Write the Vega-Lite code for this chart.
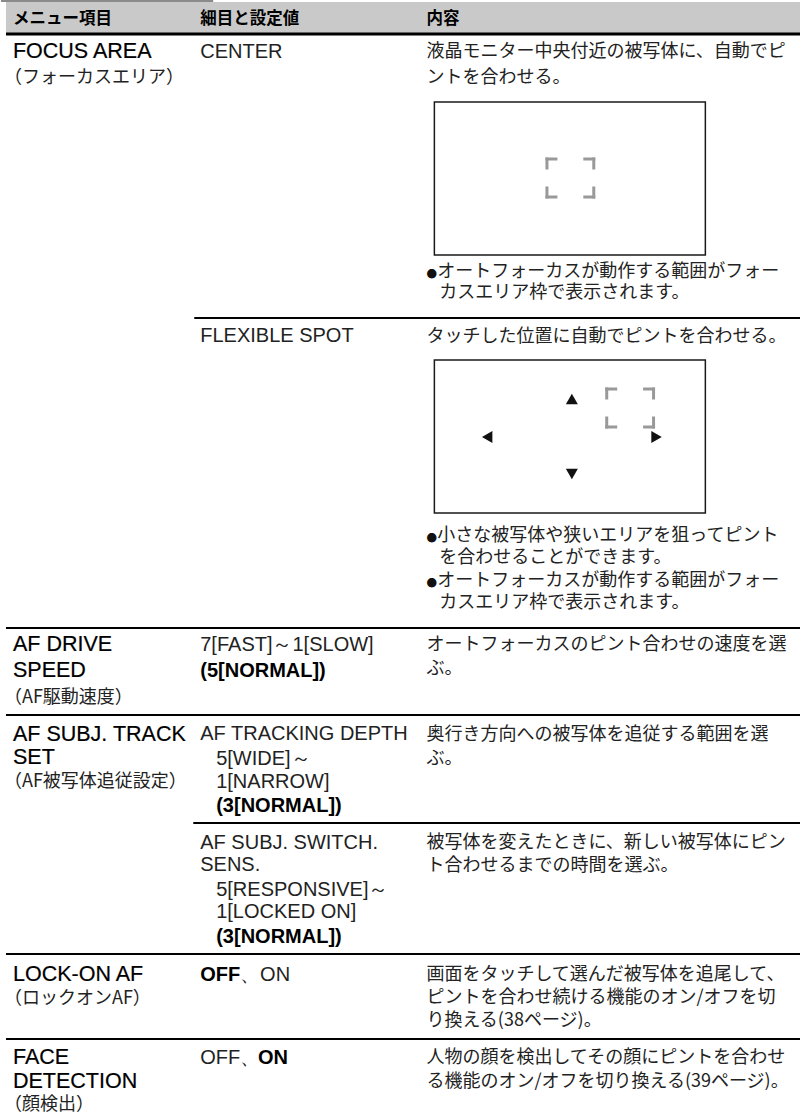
{
  "$schema": "https://vega.github.io/schema/vega-lite/v6.json",
  "width": 802,
  "height": 1120,
  "autosize": {"type": "fit", "contains": "padding"},
  "padding": 0,
  "background": "white",
  "config": {"view": {"stroke": null}},
  "datasets": {
    "bands": [
      {"part": "header", "x": 5, "x2": 802, "y": 2, "y2": 33}
    ],
    "frames": [
      {"option": "CENTER", "x": 435, "x2": 707, "y": 102, "y2": 255},
      {"option": "FLEXIBLE SPOT", "x": 435, "x2": 707, "y": 360, "y2": 513}
    ],
    "lines": [
      {"kind": "top", "x": 0, "x2": 213, "y": 1},
      {"kind": "head", "x": 5, "x2": 802, "y": 34},
      {"kind": "row", "x": 194, "x2": 802, "y": 318},
      {"kind": "row", "x": 5, "x2": 802, "y": 628},
      {"kind": "row", "x": 5, "x2": 802, "y": 715},
      {"kind": "row", "x": 193, "x2": 802, "y": 823},
      {"kind": "row", "x": 5, "x2": 802, "y": 954},
      {"kind": "row", "x": 5, "x2": 802, "y": 1039}
    ],
    "brackets": [
      {"option": "CENTER", "x": 548, "x2": 557, "y": 159, "y2": 159},
      {"option": "CENTER", "x": 548, "x2": 548, "y": 159, "y2": 168},
      {"option": "CENTER", "x": 586, "x2": 595, "y": 159, "y2": 159},
      {"option": "CENTER", "x": 595, "x2": 595, "y": 159, "y2": 168},
      {"option": "CENTER", "x": 548, "x2": 557, "y": 197, "y2": 197},
      {"option": "CENTER", "x": 548, "x2": 548, "y": 188, "y2": 197},
      {"option": "CENTER", "x": 586, "x2": 595, "y": 197, "y2": 197},
      {"option": "CENTER", "x": 595, "x2": 595, "y": 188, "y2": 197},
      {"option": "FLEXIBLE SPOT", "x": 608, "x2": 617, "y": 389, "y2": 389},
      {"option": "FLEXIBLE SPOT", "x": 608, "x2": 608, "y": 389, "y2": 398},
      {"option": "FLEXIBLE SPOT", "x": 646, "x2": 655, "y": 389, "y2": 389},
      {"option": "FLEXIBLE SPOT", "x": 655, "x2": 655, "y": 389, "y2": 398},
      {"option": "FLEXIBLE SPOT", "x": 608, "x2": 617, "y": 427, "y2": 427},
      {"option": "FLEXIBLE SPOT", "x": 608, "x2": 608, "y": 418, "y2": 427},
      {"option": "FLEXIBLE SPOT", "x": 646, "x2": 655, "y": 427, "y2": 427},
      {"option": "FLEXIBLE SPOT", "x": 655, "x2": 655, "y": 418, "y2": 427}
    ],
    "arrows": [
      {"dir": "up", "x": 573, "y": 399},
      {"dir": "down", "x": 573, "y": 474},
      {"dir": "left", "x": 488, "y": 437},
      {"dir": "right", "x": 658, "y": 437}
    ],
    "texts": [
      {"role": "header", "x": 12, "y": 19, "text": "メニュー項目"},
      {"role": "header", "x": 200, "y": 19, "text": "細目と設定値"},
      {"role": "header", "x": 427, "y": 19, "text": "内容"},

      {"role": "title", "x": 12, "y": 52, "text": "FOCUS AREA"},
      {"role": "title", "x": 12, "y": 645, "text": "AF DRIVE"},
      {"role": "title", "x": 12, "y": 671, "text": "SPEED"},
      {"role": "title", "x": 12, "y": 735, "text": "AF SUBJ. TRACK"},
      {"role": "title", "x": 12, "y": 758, "text": "SET"},
      {"role": "title", "x": 12, "y": 975, "text": "LOCK-ON AF"},
      {"role": "title", "x": 12, "y": 1058, "text": "FACE"},
      {"role": "title", "x": 12, "y": 1082, "text": "DETECTION"},

      {"role": "sub", "x": 3, "y": 78, "text": "（フォーカスエリア）"},
      {"role": "sub", "x": 3, "y": 698, "text": "（AF駆動速度）"},
      {"role": "sub", "x": 3, "y": 782, "text": "（AF被写体追従設定）"},
      {"role": "sub", "x": 3, "y": 999, "text": "（ロックオンAF）"},
      {"role": "sub", "x": 3, "y": 1105, "text": "（顔検出）"},

      {"role": "value", "x": 200, "y": 52, "text": "CENTER"},
      {"role": "value", "x": 200, "y": 336, "text": "FLEXIBLE SPOT"},
      {"role": "value", "x": 200, "y": 645, "text": "7[FAST]～1[SLOW]"},
      {"role": "value", "x": 200, "y": 734, "text": "AF TRACKING DEPTH"},
      {"role": "value", "x": 216, "y": 759, "text": "5[WIDE]～"},
      {"role": "value", "x": 216, "y": 782, "text": "1[NARROW]"},
      {"role": "value", "x": 200, "y": 843, "text": "AF SUBJ. SWITCH."},
      {"role": "value", "x": 200, "y": 865, "text": "SENS."},
      {"role": "value", "x": 216, "y": 890, "text": "5[RESPONSIVE]～"},
      {"role": "value", "x": 216, "y": 912, "text": "1[LOCKED ON]"},
      {"role": "value", "x": 240, "y": 975, "text": "、ON"},
      {"role": "value", "x": 200, "y": 1058, "text": "OFF、"},

      {"role": "default", "x": 200, "y": 671, "text": "(5[NORMAL])"},
      {"role": "default", "x": 216, "y": 806, "text": "(3[NORMAL])"},
      {"role": "default", "x": 216, "y": 937, "text": "(3[NORMAL])"},
      {"role": "default", "x": 200, "y": 975, "text": "OFF"},
      {"role": "default", "x": 258, "y": 1058, "text": "ON"},

      {"role": "bullet", "x": 427, "y": 275, "text": "●"},
      {"role": "bullet", "x": 427, "y": 539, "text": "●"},
      {"role": "bullet", "x": 427, "y": 584, "text": "●"},

      {"role": "desc", "x": 427, "y": 52, "text": "液晶モニター中央付近の被写体に、自動でピ"},
      {"role": "desc", "x": 427, "y": 78, "text": "ントを合わせる。"},
      {"role": "desc", "x": 438, "y": 272, "text": "オートフォーカスが動作する範囲がフォー"},
      {"role": "desc", "x": 440, "y": 293, "text": "カスエリア枠で表示されます。"},
      {"role": "desc", "x": 427, "y": 337, "text": "タッチした位置に自動でピントを合わせる。"},
      {"role": "desc", "x": 438, "y": 536, "text": "小さな被写体や狭いエリアを狙ってピント"},
      {"role": "desc", "x": 440, "y": 558, "text": "を合わせることができます。"},
      {"role": "desc", "x": 438, "y": 581, "text": "オートフォーカスが動作する範囲がフォー"},
      {"role": "desc", "x": 440, "y": 603, "text": "カスエリア枠で表示されます。"},
      {"role": "desc", "x": 427, "y": 645, "text": "オートフォーカスのピント合わせの速度を選"},
      {"role": "desc", "x": 427, "y": 669, "text": "ぶ。"},
      {"role": "desc", "x": 427, "y": 735, "text": "奥行き方向への被写体を追従する範囲を選"},
      {"role": "desc", "x": 427, "y": 759, "text": "ぶ。"},
      {"role": "desc", "x": 427, "y": 843, "text": "被写体を変えたときに、新しい被写体にピン"},
      {"role": "desc", "x": 427, "y": 866, "text": "ト合わせるまでの時間を選ぶ。"},
      {"role": "desc", "x": 427, "y": 975, "text": "画面をタッチして選んだ被写体を追尾して、"},
      {"role": "desc", "x": 427, "y": 998, "text": "ピントを合わせ続ける機能のオン/オフを切"},
      {"role": "desc", "x": 427, "y": 1021, "text": "り換える(38ページ)。"},
      {"role": "desc", "x": 427, "y": 1058, "text": "人物の顔を検出してその顔にピントを合わせ"},
      {"role": "desc", "x": 427, "y": 1082, "text": "る機能のオン/オフを切り換える(39ページ)。"}
    ]
  },
  "encoding": {
    "x": {"field": "x", "type": "quantitative", "scale": {"domain": [0, 802], "nice": false, "zero": false}, "axis": null},
    "y": {"field": "y", "type": "quantitative", "scale": {"domain": [0, 1120], "nice": false, "zero": false, "reverse": true}, "axis": null}
  },
  "layer": [
    {
      "data": {"name": "bands"},
      "mark": {"type": "rect", "fill": "#c9c9c9"},
      "encoding": {"x2": {"field": "x2"}, "y2": {"field": "y2"}}
    },
    {
      "data": {"name": "lines"},
      "transform": [{"filter": "datum.kind === 'top'"}],
      "mark": {"type": "rule", "color": "#8a8a8a", "strokeWidth": 2},
      "encoding": {"x2": {"field": "x2"}}
    },
    {
      "data": {"name": "lines"},
      "transform": [{"filter": "datum.kind === 'head'"}],
      "mark": {"type": "rule", "color": "#000000", "strokeWidth": 3},
      "encoding": {"x2": {"field": "x2"}}
    },
    {
      "data": {"name": "lines"},
      "transform": [{"filter": "datum.kind === 'row'"}],
      "mark": {"type": "rule", "color": "#000000", "strokeWidth": 2},
      "encoding": {"x2": {"field": "x2"}}
    },
    {
      "data": {"name": "frames"},
      "mark": {"type": "rect", "fill": "transparent", "stroke": "#1a1a1a", "strokeWidth": 1.5},
      "encoding": {"x2": {"field": "x2"}, "y2": {"field": "y2"}}
    },
    {
      "data": {"name": "brackets"},
      "mark": {"type": "rule", "color": "#999999", "strokeWidth": 3, "strokeCap": "square"},
      "encoding": {"x2": {"field": "x2"}, "y2": {"field": "y2"}}
    },
    {
      "data": {"name": "arrows"},
      "mark": {"type": "point", "filled": true, "color": "#111111", "opacity": 1, "size": 144},
      "encoding": {
        "shape": {
          "field": "dir",
          "type": "nominal",
          "scale": {"domain": ["up", "down", "left", "right"], "range": ["triangle-up", "triangle-down", "triangle-left", "triangle-right"]},
          "legend": null
        }
      }
    },
    {
      "data": {"name": "texts"},
      "transform": [{"filter": "datum.role === 'header'"}],
      "mark": {"type": "text", "align": "left", "baseline": "middle", "font": "Noto Sans CJK JP", "fontWeight": "bold", "fontSize": 16.5, "color": "#000000"},
      "encoding": {"text": {"field": "text"}}
    },
    {
      "data": {"name": "texts"},
      "transform": [{"filter": "datum.role === 'title'"}],
      "mark": {"type": "text", "align": "left", "baseline": "middle", "font": "Liberation Sans", "fontSize": 21.5, "color": "#000000", "stroke": "#000000", "strokeWidth": 0.2},
      "encoding": {"text": {"field": "text"}}
    },
    {
      "data": {"name": "texts"},
      "transform": [{"filter": "datum.role === 'sub'"}],
      "mark": {"type": "text", "align": "left", "baseline": "middle", "font": "Noto Sans CJK JP", "fontSize": 18, "color": "#222222"},
      "encoding": {"text": {"field": "text"}}
    },
    {
      "data": {"name": "texts"},
      "transform": [{"filter": "datum.role === 'value'"}],
      "mark": {"type": "text", "align": "left", "baseline": "middle", "font": "Liberation Sans", "fontSize": 20, "color": "#222222"},
      "encoding": {"text": {"field": "text"}}
    },
    {
      "data": {"name": "texts"},
      "transform": [{"filter": "datum.role === 'default'"}],
      "mark": {"type": "text", "align": "left", "baseline": "middle", "font": "Liberation Sans", "fontWeight": "bold", "fontSize": 20, "color": "#000000"},
      "encoding": {"text": {"field": "text"}}
    },
    {
      "data": {"name": "texts"},
      "transform": [{"filter": "datum.role === 'bullet'"}],
      "mark": {"type": "text", "align": "left", "baseline": "middle", "font": "Noto Sans CJK JP", "fontSize": 10.5, "color": "#111111"},
      "encoding": {"text": {"field": "text"}}
    },
    {
      "data": {"name": "texts"},
      "transform": [{"filter": "datum.role === 'desc'"}],
      "mark": {"type": "text", "align": "left", "baseline": "middle", "font": "Noto Sans CJK JP", "fontSize": 18, "color": "#222222"},
      "encoding": {"text": {"field": "text"}}
    }
  ]
}
